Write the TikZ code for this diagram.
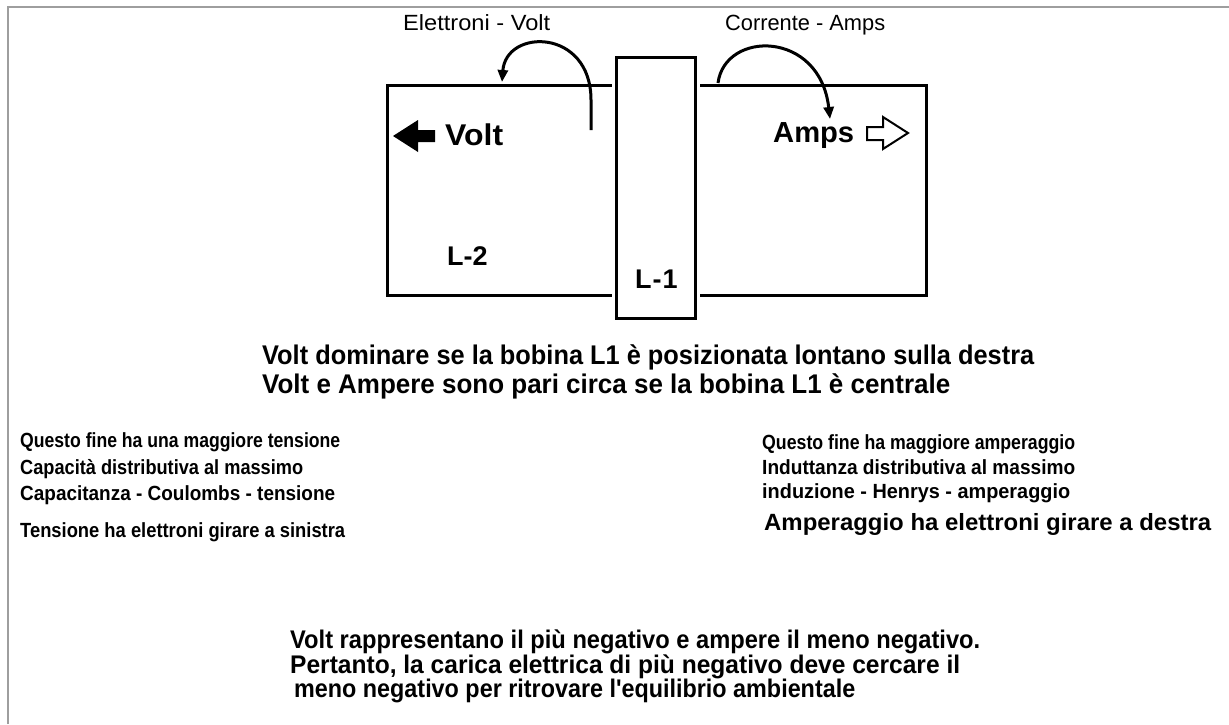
\documentclass[tikz,border=0pt]{standalone}
\usepackage{fontspec}
\newfontfamily\lib{Liberation Sans}
\usetikzlibrary{arrows.meta}
\newcommand\fitw[2]{\resizebox{#1}{\height}{#2}}
\begin{document}
\begin{tikzpicture}[x=1pt,y=-1pt,
  box/.style={draw=black,line width=3pt,inner sep=0pt},
  curv/.style={line width=3pt,-{Triangle[length=12pt,width=10pt]}},
  txt/.style={anchor=base west,inner sep=0pt},
  toplbl/.style={txt,font=\lib\fontsize{22}{26}\selectfont},
  big/.style={txt,font=\lib\fontsize{29}{34}\selectfont\bfseries},
  mid/.style={txt,font=\lib\fontsize{27}{30}\selectfont\bfseries},
  side/.style={txt,font=\lib\fontsize{20.5}{23}\selectfont\bfseries},
  foot/.style={txt,font=\lib\fontsize{25.5}{28}\selectfont\bfseries}]
\fill[white] (0,0) rectangle (1229,724);
\useasboundingbox (0,0) rectangle (1229,724);
\draw[black!38,line width=2pt] (8,724) -- (8,7) -- (1229,7);

% coil L-2 (large rectangle)
\node[box,minimum width=539.5pt,minimum height=210pt,anchor=north west] (L2box) at (385.5,84) {};
% coil L-1 (narrow rectangle)
\node[box,fill=white,preaction={draw=white,line width=9pt},minimum width=79pt,minimum height=260.5pt] (L1box) at (656,187.75) {};

% curved arrows
\coordinate (a1s) at (591,130);
\coordinate (a1e) at (502,82);
\draw[curv] (a1s) -- (591,100) .. controls (591,28) and (506,28) .. (a1e);
\coordinate (a2s) at (718,83);
\coordinate (a2e) at (830,119);
\draw[curv] (a2s) .. controls (725,30) and (820,30) .. (a2e);

\node[toplbl] (lblL) at (403,30) {\fitw{147pt}{Elettroni - Volt}};
\node[toplbl] (lblR) at (725,30) {\fitw{160pt}{Corrente - Amps}};

% Volt with filled arrow
\fill (393,136) -- (418,120) -- (418,130) -- (435,130) -- (435,142) -- (418,142) -- (418,152) -- cycle;
\node[big,font=\lib\fontsize{30}{34}\selectfont\bfseries] (volt) at (445,145) {\fitw{58pt}{Volt}};
% Amps with hollow arrow
\node[big] (amps) at (773,142) {\fitw{81pt}{Amps}};
\draw[line width=2pt,line join=miter] (867,127) -- (883,127) -- (883,117) -- (908,133) -- (883,149) -- (883,140) -- (867,140) -- cycle;

\node[big,font=\lib\fontsize{27}{32}\selectfont\bfseries] (l2) at (447,265) {L-2};
\node[big,font=\lib\fontsize{27}{32}\selectfont\bfseries] (l1) at (635,288) {L\kern1pt-\kern1pt1};

\node[mid] (m1) at (262,364) {\fitw{772pt}{Volt dominare se la bobina L1 è posizionata lontano sulla destra}};
\node[mid] (m2) at (262,393) {\fitw{688pt}{Volt e Ampere sono pari circa se la bobina L1 è centrale}};

\node[side] (s1) at (20,447) {\fitw{320pt}{Questo fine ha una maggiore tensione}};
\node[side] (s2) at (20,474) {\fitw{283pt}{Capacità distributiva al massimo}};
\node[side] (s3) at (20,500) {\fitw{315pt}{Capacitanza - Coulombs - tensione}};
\node[side] (s4) at (20,537) {\fitw{325pt}{Tensione ha elettroni girare a sinistra}};

\node[side] (r1) at (762,449) {\fitw{313pt}{Questo fine ha maggiore amperaggio}};
\node[side] (r2) at (762,474) {\fitw{313pt}{Induttanza distributiva al massimo}};
\node[side] (r3) at (762,498) {\fitw{308pt}{induzione - Henrys - amperaggio}};
\node[side,font=\lib\fontsize{23.5}{26}\selectfont\bfseries] (r4) at (764,530) {\fitw{447pt}{Amperaggio ha elettroni girare a destra}};

\node[foot] (f1) at (290,648) {\fitw{690pt}{Volt rappresentano il più negativo e ampere il meno negativo.}};
\node[foot] (f2) at (290,673) {\fitw{670pt}{Pertanto, la carica elettrica di più negativo deve cercare il}};
\node[foot] (f3) at (294,697) {\fitw{561pt}{meno negativo per ritrovare l'equilibrio ambientale}};
\end{tikzpicture}
\end{document}
